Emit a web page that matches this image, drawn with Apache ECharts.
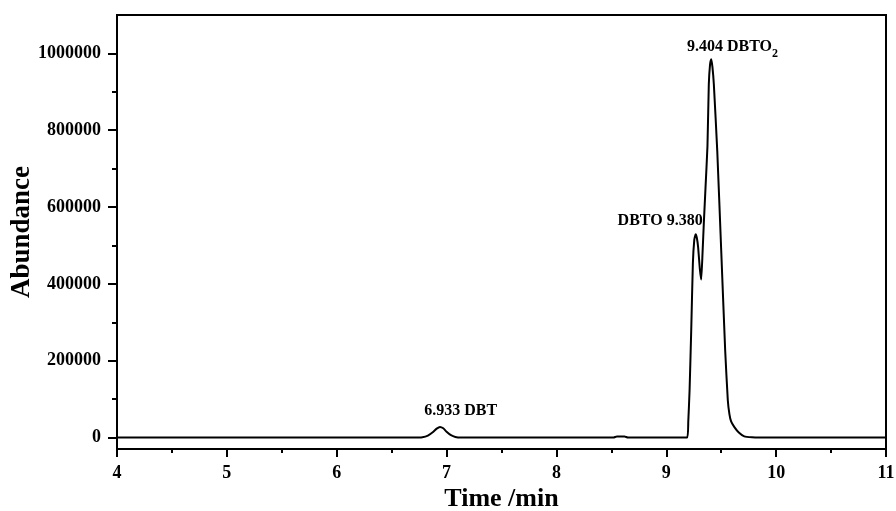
<!DOCTYPE html>
<html>
<head>
<meta charset="utf-8">
<title>Chromatogram</title>
<script src="https://cdn.jsdelivr.net/npm/echarts@6/dist/echarts.min.js"></script>
<style>
  html, body { margin: 0; padding: 0; background: #fff; }
  #chart { width: 896px; height: 511px; }
</style>
</head>
<body>
<div id="chart"></div>
<script>
// retention time (min) and abundance
var times = [
  4.00, 6.70, 6.78, 6.83, 6.88, 6.91, 6.94, 6.97, 7.00, 7.04, 7.08, 7.13,
  8.52, 8.55, 8.62, 8.65,
  9.19, 9.20, 9.212, 9.227, 9.242, 9.255, 9.267, 9.278, 9.290, 9.305, 9.318,
  9.330, 9.342, 9.357, 9.375, 9.387, 9.398, 9.409, 9.420, 9.433, 9.464,
  9.500, 9.536, 9.560, 9.575, 9.590, 9.620, 9.660, 9.710, 9.780, 9.850, 11.00
]
var abundance = [
  0, 0, 800, 5000, 15000, 23000, 27500, 24000, 15000, 6000, 1500, 0,
  0, 2500, 2500, 0,
  0, 40000, 123000, 279000, 453000, 515000, 529000, 520000, 495000, 440000, 411000,
  480000, 560000, 650000, 760000, 919000, 970000, 985000, 965000, 919000, 746000,
  487000, 227000, 97000, 60000, 42000, 27000, 13000, 3000, 500, 0, 0
]

// peak annotations
var peakLabels = ['{a|9.404 DBTO}{s|2}', '{a|DBTO 9.380}', '{a|6.933 DBT}']
var peakLabelTimes = [9.603, 8.944, 7.128]
var peakLabelValues = [1017000, 563800, 69000]

// axis ticks
var yMajorTicks = [0, 200000, 400000, 600000, 800000, 1000000]
var yMinorTicks = [100000, 300000, 500000, 700000, 900000]

var serif = "'Liberation Serif', 'Times New Roman', serif"

var chart = echarts.init(document.getElementById('chart'))

var points = times.map(function (t, i) { return [t, abundance[i]] })
var marks = peakLabels.map(function (txt, i) {
  return { coord: [peakLabelTimes[i], peakLabelValues[i]], value: txt }
})

chart.setOption({
  animation: false,
  backgroundColor: '#fff',
  grid: {
    left: 117,
    right: 10,
    top: 15,
    bottom: 62,
    show: true,
    borderColor: '#000',
    borderWidth: 2,
    outerBoundsMode: 'none'
  },
  xAxis: {
    type: 'value',
    min: 4,
    max: 11,
    interval: 1,
    name: 'Time /min',
    nameLocation: 'middle',
    nameGap: 37,
    nameMoveOverlap: false,
    nameTextStyle: { fontFamily: serif, fontWeight: 'bold', fontSize: 26, color: '#000' },
    axisLine: { onZero: false, lineStyle: { color: '#000', width: 2 } },
    axisTick: { inside: false, length: 8, lineStyle: { color: '#000', width: 2 } },
    minorTick: { show: true, splitNumber: 2, length: 4, lineStyle: { color: '#000', width: 2 } },
    axisLabel: { fontFamily: serif, fontWeight: 'bold', fontSize: 18, color: '#000', margin: 15 },
    splitLine: { show: false },
    minorSplitLine: { show: false }
  },
  yAxis: [
    {
      type: 'value',
      position: 'left',
      min: -30000,
      max: 1100000,
      name: 'Abundance',
      nameLocation: 'middle',
      nameGap: 81,
      nameMoveOverlap: false,
      nameTextStyle: { fontFamily: serif, fontWeight: 'bold', fontSize: 27, color: '#000' },
      axisLine: { show: true, onZero: false, lineStyle: { color: '#000', width: 2 } },
      axisTick: { show: true, length: 9, customValues: yMajorTicks, lineStyle: { color: '#000', width: 2 } },
      axisLabel: {
        customValues: yMajorTicks,
        formatter: function (v) { return String(v) },
        fontFamily: serif, fontWeight: 'bold', fontSize: 18, color: '#000', margin: 16
      },
      splitLine: { show: false }
    },
    {
      type: 'value',
      position: 'left',
      min: -30000,
      max: 1100000,
      axisLine: { show: false },
      axisTick: { show: true, length: 5, customValues: yMinorTicks, lineStyle: { color: '#000', width: 2 } },
      axisLabel: { show: false },
      splitLine: { show: false }
    }
  ],
  series: [
    {
      type: 'line',
      data: points,
      showSymbol: false,
      smooth: 0.15,
      lineStyle: { color: '#000', width: 2 },
      markPoint: {
        symbol: 'circle',
        symbolSize: 1,
        itemStyle: { color: 'rgba(0,0,0,0)' },
        label: {
          show: true,
          position: 'inside',
          formatter: function (p) { return p.value },
          rich: {
            a: { fontFamily: serif, fontWeight: 'bold', fontSize: 16, color: '#000', lineHeight: 26 },
            s: { fontFamily: serif, fontWeight: 'bold', fontSize: 12, color: '#000', lineHeight: 12, verticalAlign: 'bottom' }
          }
        },
        data: marks
      }
    }
  ]
})
</script>
</body>
</html>
